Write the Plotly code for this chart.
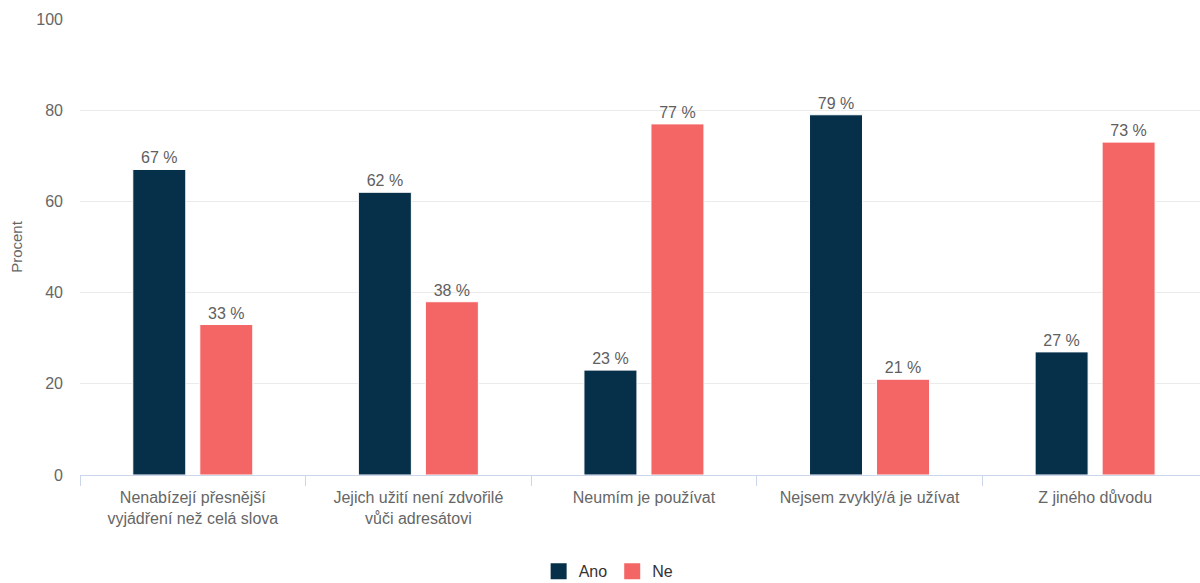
import plotly.graph_objects as go

categories = [
    "Nenabízejí přesnější<br>vyjádření než celá slova",
    "Jejich užití není zdvořilé<br>vůči adresátovi",
    "Neumím je používat",
    "Nejsem zvyklý/á je užívat",
    "Z jiného důvodu",
]
ano = [67, 62, 23, 79, 27]
ne = [33, 38, 77, 21, 73]
y_ticks = [0, 20, 40, 60, 80, 100]

FONT = "Liberation Sans, Arial, Helvetica, sans-serif"
TEXT_GREY = "#666666"
series = [("Ano", ano, "#06304a"), ("Ne", ne, "#f46666")]

fig = go.Figure()
for name, vals, color in series:
    fig.add_trace(go.Bar(
        name=name,
        x=categories,
        y=vals,
        marker=dict(color=color, line=dict(color="#ffffff", width=1)),
        texttemplate="%{y} %",
        textposition="outside",
        textfont=dict(family=FONT, size=16, color="#606060"),
        cliponaxis=False,
        showlegend=False,
        legendgroup=name,
    ))

# Legend entries with larger square swatches
for name, vals, color in series:
    fig.add_trace(go.Scatter(
        name=name,
        x=[None],
        y=[None],
        mode="markers",
        marker=dict(symbol="square", size=20, color=color),
        showlegend=True,
        legendgroup=name,
    ))

fig.update_layout(
    width=1200,
    height=583,
    margin=dict(l=80, r=0, t=19, b=108, autoexpand=False),
    paper_bgcolor="#ffffff",
    plot_bgcolor="#ffffff",
    barmode="group",
    bargap=0.406,
    bargroupgap=0.209,
    font=dict(family=FONT, size=16, color=TEXT_GREY),
    showlegend=True,
    legend=dict(
        orientation="h",
        x=0.472,
        xanchor="center",
        y=-0.174,
        yanchor="top",
        font=dict(family=FONT, size=16, color="#333333"),
        itemwidth=30,
        itemsizing="trace",
    ),
)

fig.update_xaxes(
    range=[-0.5, 4.465],
    showline=True,
    linecolor="#ccd6eb",
    linewidth=1,
    ticks="outside",
    tickson="boundaries",
    ticklen=10,
    tickcolor="#ccd6eb",
    ticklabelstandoff=8,
    tickfont=dict(family=FONT, size=16, color=TEXT_GREY),
    showgrid=False,
    fixedrange=True,
)

fig.update_yaxes(
    range=[0, 100],
    tickvals=y_ticks,
    showgrid=True,
    gridcolor="#ebebeb",
    gridwidth=1,
    zeroline=False,
    ticks="",
    ticklabelstandoff=16,
    tickfont=dict(family=FONT, size=16, color=TEXT_GREY),
    title=dict(text="Procent", font=dict(family=FONT, size=15, color=TEXT_GREY), standoff=10),
    fixedrange=True,
)

fig.write_html("out.html")
